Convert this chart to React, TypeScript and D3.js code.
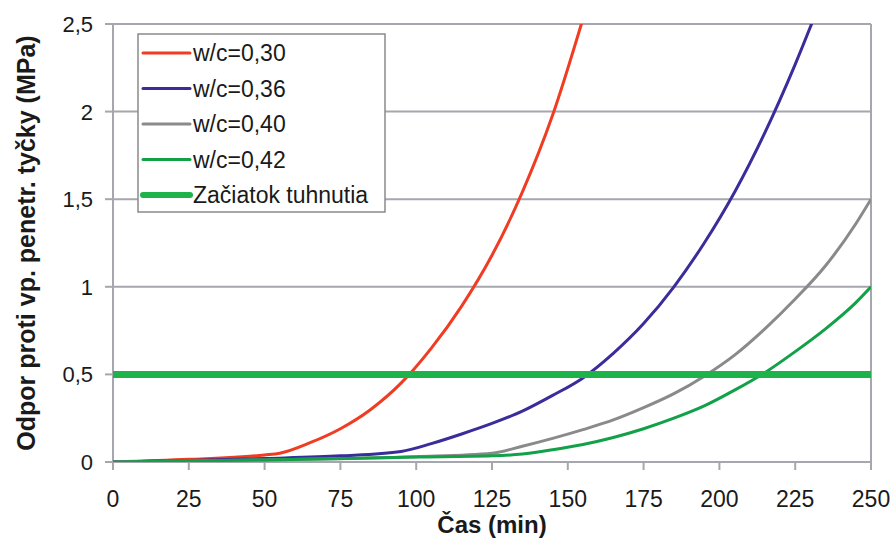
import React from "react";
import * as d3 from "d3";

const W = 894;
const H = 541;

const xTicks = [0, 25, 50, 75, 100, 125, 150, 175, 200, 225, 250];
const yTicks = [0, 0.5, 1, 1.5, 2, 2.5];

const seriesNames = ["w/c=0,30", "w/c=0,36", "w/c=0,40", "w/c=0,42"];
const setLabel = "Začiatok tuhnutia";
const setValue = 0.5;

const redT = [0, 25, 50, 55, 65, 75, 85, 95, 105, 115, 125, 135, 145, 155];
const redV = [0, 0.015, 0.04, 0.05, 0.11, 0.19, 0.3, 0.45, 0.65, 0.89, 1.18, 1.54, 1.98, 2.53];

const blueT = [0, 25, 50, 75, 95, 105, 115, 125, 135, 145, 155, 165, 175, 185, 195, 205, 215, 225, 232];
const blueV = [0, 0.008, 0.02, 0.035, 0.06, 0.105, 0.16, 0.22, 0.29, 0.38, 0.48, 0.62, 0.79, 1.0, 1.25, 1.54, 1.88, 2.27, 2.57];

const grayT = [0, 50, 100, 125, 135, 145, 155, 165, 175, 185, 195, 205, 215, 225, 235, 245, 250];
const grayV = [0, 0.012, 0.03, 0.05, 0.09, 0.135, 0.185, 0.24, 0.31, 0.39, 0.49, 0.61, 0.76, 0.93, 1.12, 1.36, 1.5];

const greenT = [0, 50, 100, 125, 135, 145, 155, 165, 175, 185, 195, 205, 215, 225, 235, 245, 250];
const greenV = [0, 0.012, 0.028, 0.035, 0.045, 0.07, 0.1, 0.14, 0.19, 0.25, 0.32, 0.41, 0.51, 0.63, 0.76, 0.91, 1.0];

const colors = ["#F03C22", "#3A2C9A", "#8A8A8A", "#12A048"];
const setColor = "#1DB34A";

export default function App() {
  const left = 113;
  const right = 871;
  const top = 24;
  const bottom = 462;
  const x = d3.scaleLinear().domain([0, 250]).range([left, right]);
  const y = d3.scaleLinear().domain([0, 2.5]).range([bottom, top]);

  const line = d3
    .line<[number, number]>()
    .x((d) => x(d[0]))
    .y((d) => y(d[1]))
    .curve(d3.curveMonotoneX);

  const allT = [redT, blueT, grayT, greenT];
  const allV = [redV, blueV, grayV, greenV];
  const paths = allT.map((ts, i) => line(ts.map((t, j) => [t, allV[i][j]] as [number, number])) || "");

  const grid = "#A6A6AE";
  const font = "'Liberation Sans', Arial, sans-serif";

  const legendX = 138;
  const legendY = 34;
  const legendW = 247;
  const legendH = 178;
  const rowY = [53, 88.5, 124, 159.5, 195];

  return (
    <svg width={W} height={H} style={{ position: "absolute", left: 0, top: 0, background: "#fff" }} fontFamily={font}>
      <defs>
        <clipPath id="plot">
          <rect x={left} y={top} width={right - left} height={bottom - top} />
        </clipPath>
      </defs>
      {yTicks.filter((v) => v > 0).map((v) => (
        <line key={"g" + v} x1={left} x2={right} y1={y(v)} y2={y(v)} stroke={grid} strokeWidth={2} />
      ))}
      <line x1={right} x2={right} y1={top} y2={bottom} stroke={grid} strokeWidth={2} />
      <line x1={left} x2={left} y1={top} y2={bottom} stroke={grid} strokeWidth={2} />
      <line x1={left} x2={right} y1={bottom} y2={bottom} stroke={grid} strokeWidth={2} />
      {yTicks.map((v) => (
        <line key={"yt" + v} x1={left - 8} x2={left} y1={y(v)} y2={y(v)} stroke={grid} strokeWidth={2} />
      ))}
      {xTicks.map((v) => (
        <line key={"xt" + v} x1={x(v)} x2={x(v)} y1={bottom} y2={bottom + 8} stroke={grid} strokeWidth={2} />
      ))}
      {yTicks.map((v) => (
        <text key={"yl" + v} x={left - 20} y={y(v)} dy="0.36em" textAnchor="end" fontSize={22} fill="#1a1a1a">
          {String(v).replace(".", ",")}
        </text>
      ))}
      {xTicks.map((v) => (
        <text key={"xl" + v} x={x(v)} y={507} textAnchor="middle" fontSize={23} fill="#1a1a1a">
          {v}
        </text>
      ))}
      <g clipPath="url(#plot)">
        {paths.map((p, i) => (
          <path key={"s" + i} d={p} fill="none" stroke={colors[i]} strokeWidth={3} />
        ))}
        <line x1={left} x2={right} y1={y(setValue)} y2={y(setValue)} stroke={setColor} strokeWidth={7} />
      </g>
      <text x={(left + right) / 2} y={533} textAnchor="middle" fontSize={24} fontWeight="bold" fill="#1a1a1a">
        Čas (min)
      </text>
      <text
        transform={`translate(35, ${(top + bottom) / 2}) rotate(-90)`}
        textAnchor="middle"
        fontSize={25}
        fontWeight="bold"
        fill="#1a1a1a"
      >
        Odpor proti vp. penetr. tyčky (MPa)
      </text>
      <rect x={legendX} y={legendY} width={legendW} height={legendH} fill="#fff" stroke="#8A8A8A" strokeWidth={1.5} />
      {[...seriesNames, setLabel].map((name, i) => (
        <g key={"lg" + i}>
          <line
            x1={143}
            x2={190}
            y1={rowY[i]}
            y2={rowY[i]}
            stroke={i < 4 ? colors[i] : setColor}
            strokeWidth={i < 4 ? 3 : 6}
            strokeLinecap="round"
          />
          <text x={193} y={rowY[i]} dy="0.36em" fontSize={23} fill="#1a1a1a">
            {name}
          </text>
        </g>
      ))}
    </svg>
  );
}
